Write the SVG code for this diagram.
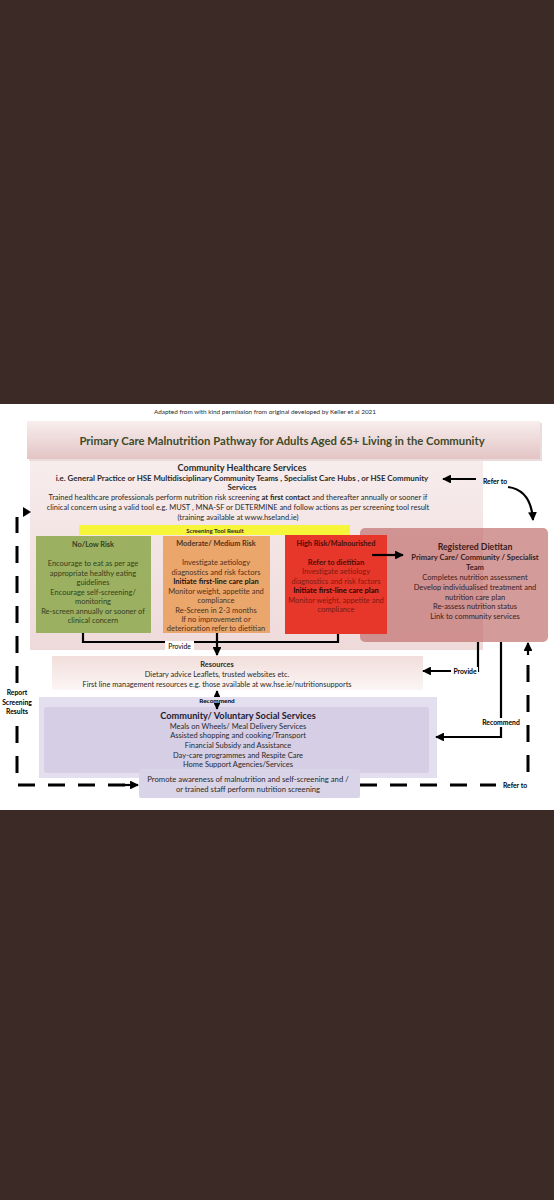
<svg xmlns="http://www.w3.org/2000/svg" width="554" height="1200" viewBox="0 0 554 1200">
<defs>
<style>
text{font-family:Lato,"Liberation Sans",sans-serif;text-anchor:middle;fill:#2a2a2a}
.b{font-weight:bold}
.s7{font-size:7.5px}
.s65{font-size:7.4px}
.lbl{font-size:6.8px;font-weight:bold;fill:#000}
.ln{fill:none;stroke:#000;stroke-width:2.2}
.dash{fill:none;stroke:#000;stroke-width:3;stroke-dasharray:17 13}
.gt{fill:#34401f}
.ot{fill:#4e3220}
.rt{fill:#7d1c12}
.dt{fill:#3a1c1c}
</style>
<linearGradient id="gTitle" x1="0" y1="0" x2="0" y2="1"><stop offset="0" stop-color="#f8eeee"/><stop offset="1" stop-color="#e3c4c4"/></linearGradient>
<linearGradient id="gCom" x1="0" y1="0" x2="0" y2="1"><stop offset="0" stop-color="#f7ecec"/><stop offset="1" stop-color="#efdada"/></linearGradient>
<linearGradient id="gRes" x1="0" y1="0" x2="0" y2="1"><stop offset="0" stop-color="#f1dedb"/><stop offset="1" stop-color="#fbf6f5"/></linearGradient>
<marker id="ah" viewBox="0 0 10 10" refX="9" refY="5" markerWidth="4" markerHeight="4" orient="auto" markerUnits="strokeWidth"><path d="M0,0 L10,5 L0,10 z" fill="#000"/></marker>
<marker id="ahs" viewBox="0 0 10 10" refX="9" refY="5" markerWidth="3" markerHeight="3" orient="auto" markerUnits="strokeWidth"><path d="M0,0 L10,5 L0,10 z" fill="#000"/></marker>
</defs>
<rect x="0" y="0" width="554" height="1200" fill="#3b2a26"/>
<rect x="0" y="404" width="554" height="406" fill="#ffffff"/>

<g id="credit"><text x="265" y="414" style="font-size:6.4px">Adapted from with kind permission from original developed by  Keller et al 2021</text></g>

<g id="title">
<rect x="29" y="423" width="513" height="38" fill="#dcc4c4" opacity="0.6"/>
<rect x="27" y="421" width="513" height="38" fill="url(#gTitle)"/>
<text x="282" y="444.5" class="b" style="font-size:11.3px;fill:#3d4a2a">Primary Care Malnutrition Pathway for Adults Aged 65+ Living in the Community</text>
</g>

<g id="community-healthcare">
<rect x="30" y="461" width="453" height="189" fill="url(#gCom)"/>
<text x="242" y="470.5" class="b" style="font-size:9.1px">Community Healthcare Services</text>
<text x="242" y="480.5" class="b" style="font-size:7.9px">i.e.  General Practice or  HSE Multidisciplinary Community Teams , Specialist Care Hubs ,  or HSE  Community</text>
<text x="242" y="490" class="b" style="font-size:7.9px">Services</text>
<text x="238" y="499.5" class="s7">Trained healthcare professionals perform nutrition risk  screening <tspan class="b">at first contact</tspan> and thereafter annually or sooner if</text>
<text x="238" y="509.5" class="s7">clinical concern using a valid tool e.g. MUST , MNA-SF or DETERMINE and follow actions as per screening tool result</text>
<text x="238" y="519.5" class="s7">(training available at www.hseland.ie)</text>
</g>

<g id="screening-bar">
<rect x="79" y="525" width="271" height="10" fill="#f7f53a"/>
<text x="215" y="532.5" class="b" style="font-size:6.1px">Screening Tool Result</text>
</g>

<g id="dietitian">
<rect x="360" y="528" width="188" height="114" rx="5" fill="#c0706f" fill-opacity="0.7"/>
<text x="475" y="549.5" class="b dt" style="font-size:8.7px">Registered Dietitan</text>
<text x="475" y="559.5" class="b dt" style="font-size:7.6px">Primary Care/ Community / Specialist</text>
<text x="475" y="569.5" class="b dt" style="font-size:7.6px">Team</text>
<text x="475" y="579.5" class="s7 dt">Completes nutrition assessment</text>
<text x="475" y="589.5" class="s7 dt">Develop individualised treatment and</text>
<text x="475" y="599.5" class="s7 dt">nutrition care plan</text>
<text x="475" y="609" class="s7 dt">Re-assess nutrition status</text>
<text x="475" y="618.5" class="s7 dt">Link to community services</text>
</g>

<g id="no-low-risk">
<rect x="36" y="536" width="115" height="97" fill="#9bb060"/>
<text x="93" y="546.5" class="b gt" style="font-size:7.3px">No/Low Risk</text>
<text x="93" y="566" class="s7 gt">Encourage to eat as per age</text>
<text x="93" y="575.5" class="s7 gt">appropriate healthy eating</text>
<text x="93" y="585" class="s7 gt">guidelines</text>
<text x="93" y="594.5" class="s7 gt">Encourage self-screening/</text>
<text x="93" y="604" class="s7 gt">monitoring</text>
<text x="93" y="613.5" class="s7 gt">Re-screen annually or sooner of</text>
<text x="93" y="623" class="s7 gt">clinical concern</text>
</g>

<g id="moderate-risk">
<rect x="163" y="536" width="107" height="97" fill="#eba66b"/>
<text x="216" y="546" class="b ot" style="font-size:7.3px">Moderate/ Medium Risk</text>
<text x="216" y="565" class="s7 ot">Investigate aetiology</text>
<text x="216" y="574.5" class="s7 ot">diagnostics and risk factors</text>
<text x="216" y="584" class="b s7" style="fill:#1e1410">Initiate first-line care plan</text>
<text x="216" y="593.5" class="s7 ot">Monitor weight, appetite and</text>
<text x="216" y="603" class="s7 ot">compliance</text>
<text x="216" y="612.5" class="s7 ot">Re-Screen in 2-3 months</text>
<text x="216" y="622" class="s7 ot">If no improvement or</text>
<text x="216" y="631" class="s7 ot">deterioration refer to dietitian</text>
</g>

<g id="high-risk">
<rect x="285" y="535" width="102" height="99" fill="#e7362a"/>
<text x="336" y="545.5" class="b" style="font-size:7.3px;fill:#4a0f08">High Risk/Malnourished</text>
<text x="336" y="564.5" class="b s7" style="fill:#4a0f08">Refer to dietitian</text>
<text x="336" y="574" class="s7 rt">Investigate aetiology</text>
<text x="336" y="583.5" class="s7 rt">diagnostics and risk factors</text>
<text x="336" y="593" class="b s7" style="fill:#2a0604">Initiate first-line care plan</text>
<text x="336" y="602.5" class="s7 rt">Monitor weight, appetite and</text>
<text x="336" y="612" class="s7 rt">compliance</text>
</g>

<g id="resources">
<rect x="52" y="656" width="371" height="34" fill="url(#gRes)"/>
<text x="217" y="666.5" class="b s65">Resources</text>
<text x="217" y="676.5" class="s65">Dietary advice Leaflets, trusted websites etc.</text>
<text x="217" y="686.5" class="s65">First line management resources e.g. those available at ww.hse.ie/nutritionsupports</text>
</g>

<g id="community-voluntary">
<rect x="39" y="697" width="398" height="81" fill="#e4dfee"/>
<rect x="44" y="707" width="385" height="66" rx="3" fill="#d5cee4"/>
<text x="238" y="719" class="b" style="font-size:9.2px;fill:#1f1a33">Community/ Voluntary Social  Services</text>
<text x="238" y="728.5" class="s7">Meals on Wheels/ Meal Delivery Services</text>
<text x="238" y="738" class="s7">Assisted shopping and cooking/Transport</text>
<text x="238" y="748" class="s7">Financial Subsidy and Assistance</text>
<text x="238" y="757.5" class="s7">Day-care programmes and Respite Care</text>
<text x="238" y="767" class="s7">Home Support Agencies/Services</text>
</g>

<g id="promote">
<rect x="139" y="769" width="221" height="29" rx="2" fill="#dad4e8"/>
<text x="248" y="782" style="font-size:7.7px">Promote awareness  of malnutrition and  self-screening and /</text>
<text x="248" y="792" style="font-size:7.7px">or trained staff  perform nutrition screening</text>
</g>

<g id="connectors">
<path class="ln" d="M83,633 V642 H338 V634"/>
<path class="ln" d="M217,633 V655" marker-end="url(#ah)"/>
<rect x="165" y="641" width="29" height="9" fill="#fff"/>
<text x="179.5" y="648.5" class="lbl" style="font-weight:normal">Provide</text>

<path class="ln" d="M372,555 H403" stroke-width="2.6" marker-end="url(#ah)"/>

<path class="ln" d="M476,479 H443" marker-end="url(#ah)"/>
<text x="495" y="484" class="lbl">Refer to</text>
<path class="ln" d="M508,487 Q531,490 533,520" marker-end="url(#ah)"/>

<path class="ln" d="M478,642 V671 H423" marker-end="url(#ah)"/>
<rect x="451" y="667" width="27" height="9" fill="#fff"/>
<text x="465" y="674" class="lbl">Provide</text>

<path class="ln" d="M501,642 V737 H436" marker-end="url(#ah)"/>
<rect x="479" y="718" width="44" height="9" fill="#fff"/>
<text x="501" y="725" class="lbl">Recommend</text>

<path class="dash" d="M528,772 V652"/>
<path class="ln" d="M528,655 V643" marker-end="url(#ah)"/>
<path class="dash" d="M360,785 H496"/>
<text x="515" y="788" class="lbl">Refer to</text>

<path class="dash" d="M125,785 H17 V517"/>
<path class="ln" d="M122,785 H138" marker-end="url(#ah)"/>
<path d="M23,507 L31,512 L23,517 z" fill="#000"/>
<rect x="0" y="683" width="36" height="34" fill="#fff"/>
<text x="17" y="695" class="lbl">Report</text>
<text x="17" y="704.5" class="lbl">Screening</text>
<text x="17" y="714" class="lbl">Results</text>

<path class="ln" d="M217,697 V691" stroke-width="1.2" marker-end="url(#ahs)"/>
<text x="217" y="703" class="lbl" style="font-size:6.4px">Recommend</text>
<path class="ln" d="M217,704.5 V709" stroke-width="1.2" marker-end="url(#ahs)"/>
</g>
</svg>
